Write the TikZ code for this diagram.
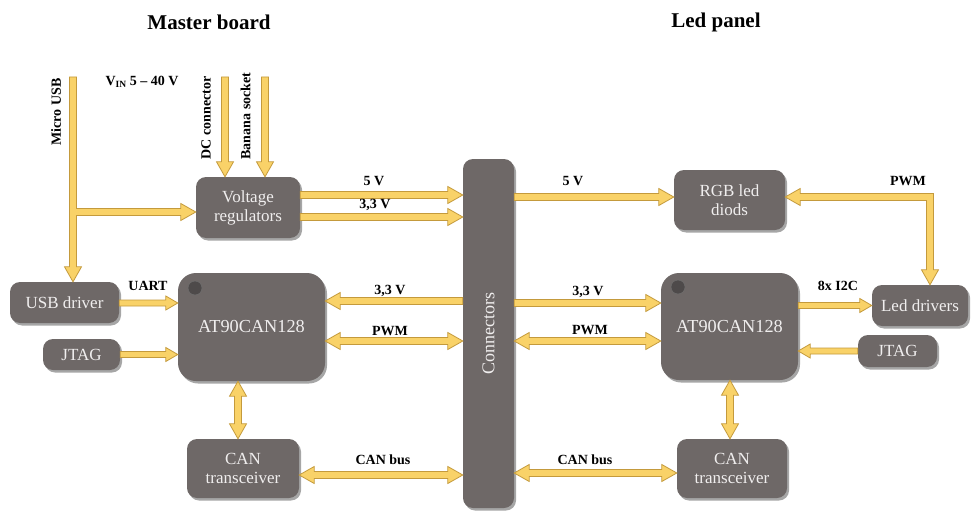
\documentclass[tikz,border=0pt]{standalone}
\usepackage{fontspec}
\setmainfont{Liberation Serif}
\usetikzlibrary{calc,shadows}
\definecolor{boxc}{RGB}{110,104,103}
\definecolor{boxt}{RGB}{240,238,238}
\definecolor{yfill}{RGB}{249,210,104}
\definecolor{yline}{RGB}{196,154,60}
\definecolor{dotc}{RGB}{78,74,74}
\tikzset{
 blk/.style={draw=none, fill=boxc, text=boxt, rounded corners=10pt, align=center, inner sep=0pt,
   font=\rmfamily\fontsize{17}{19}\selectfont,
   drop shadow={shadow xshift=2pt, shadow yshift=-2.5pt, opacity=0.35, fill=black}},
 bigblk/.style={blk, rounded corners=18pt, font=\rmfamily\fontsize{18.3}{20}\selectfont},
 lbl/.style={font=\bfseries\fontsize{14}{15}\selectfont, inner sep=0pt},
 ttl/.style={font=\bfseries\fontsize{21}{23}\selectfont, inner sep=0pt},
 yarr/.style={fill=yfill, draw=yline, line width=0.8pt, line join=miter},
 chipdot/.style={circle, fill=dotc, draw=black!55, line width=0.4pt, minimum size=14pt, inner sep=0pt},
}
\newcommand\yas{3.5pt}
\newcommand\yaw{8.5pt}
\newcommand\yah{15pt}
% single arrow, tip at #2
\newcommand\arF[2]{\path[yarr]
 ($(#1)!\yas!90:(#2)$) -- ($(#2)!\yah!(#1)!\yas!90:(#2)$) -- ($(#2)!\yah!(#1)!\yaw!90:(#2)$) -- (#2)
 -- ($(#2)!\yah!(#1)!\yaw!-90:(#2)$) -- ($(#2)!\yah!(#1)!\yas!-90:(#2)$) -- ($(#1)!\yas!-90:(#2)$) -- cycle;}
% double arrow
\newcommand\arD[2]{\path[yarr]
 ($(#1)!\yah!(#2)!\yas!90:(#2)$) -- ($(#2)!\yah!(#1)!\yas!90:(#2)$) -- ($(#2)!\yah!(#1)!\yaw!90:(#2)$) -- (#2)
 -- ($(#2)!\yah!(#1)!\yaw!-90:(#2)$) -- ($(#2)!\yah!(#1)!\yas!-90:(#2)$) -- ($(#1)!\yah!(#2)!\yas!-90:(#2)$)
 -- ($(#1)!\yah!(#2)!\yaw!-90:(#2)$) -- (#1) -- ($(#1)!\yah!(#2)!\yaw!90:(#2)$) -- cycle;}
\begin{document}
\begin{tikzpicture}[x=1pt,y=1pt]
\useasboundingbox (0,0) rectangle (975,-511);
\fill[white] (0,0) rectangle (975,-511);

% titles
\node[ttl] (tm) at (209,-22) {Master board};
\node[ttl] (tl) at (716,-22) {Led panel};

% blocks
\node[blk, minimum width=104pt, minimum height=61pt] (vreg) at (248,-207.5) {Voltage\\regulators};
\node[blk, minimum width=109pt, minimum height=41pt] (usb) at (64.5,-302.5) {USB driver};
\node[blk, minimum width=77pt, minimum height=31pt] (jtagL) at (81.5,-354.5) {JTAG};
\node[bigblk, minimum width=147pt, minimum height=108pt] (atL) at (251.5,-327) {AT90CAN128};
\node[blk, minimum width=112pt, minimum height=59pt] (canL) at (243,-468.5) {CAN\\transceiver};
\node[blk, minimum width=51pt, minimum height=349pt] (conn) at (488.5,-333.5) {};
\node[rotate=90, text=boxt, font=\rmfamily\fontsize{18}{20}\selectfont, inner sep=0pt] (connt) at (conn.center) {Connectors};
\node[blk, minimum width=111pt, minimum height=60pt] (rgb) at (729.5,-200) {RGB led\\diods};
\node[bigblk, minimum width=137pt, minimum height=107pt] (atR) at (729.5,-326.5) {AT90CAN128};
\node[blk, minimum width=96pt, minimum height=41pt] (ledd) at (920,-305.5) {Led drivers};
\node[blk, minimum width=79pt, minimum height=32pt] (jtagR) at (897.5,-351) {JTAG};
\node[blk, minimum width=110pt, minimum height=59pt] (canR) at (732,-468.5) {CAN\\transceiver};

\node[chipdot] (dotL) at (195,-288) {};
\node[chipdot] (dotR) at (678,-287) {};

% coordinates
\coordinate (dcT) at (225,-77);  \coordinate (dcB) at (dcT |- vreg.north);
\coordinate (baT) at (265,-77);  \coordinate (baB) at (baT |- vreg.north);
\coordinate (v5a) at (vreg.east |- 0,-195); \coordinate (v5b) at (conn.west |- 0,-195);
\coordinate (v3a) at (vreg.east |- 0,-217); \coordinate (v3b) at (conn.west |- 0,-217);
\coordinate (r5a) at (conn.east |- 0,-197); \coordinate (r5b) at (rgb.west |- 0,-197);
\coordinate (ua) at (usb.east |- 0,-303); \coordinate (ub) at (atL.west |- 0,-303);
\coordinate (jla) at (jtagL.east); \coordinate (jlb) at (atL.west |- jtagL.east);
\coordinate (l3a) at (conn.west |- 0,-301); \coordinate (l3b) at (atL.east |- 0,-301);
\coordinate (lpa) at (atL.east |- 0,-341); \coordinate (lpb) at (conn.west |- 0,-341);
\coordinate (r3a) at (conn.east |- 0,-303); \coordinate (r3b) at (atR.west |- 0,-303);
\coordinate (rpa) at (conn.east |- 0,-341); \coordinate (rpb) at (atR.west |- 0,-341);
\coordinate (ia) at (atR.east |- ledd.west); \coordinate (ib) at (ledd.west);
\coordinate (jra) at (jtagR.west); \coordinate (jrb) at (atR.east |- jtagR.west);
\coordinate (vla) at (atL.south -| 238,0); \coordinate (vlb) at (canL.north -| 238,0);
\coordinate (vra) at (atR.south -| 730,0); \coordinate (vrb) at (canR.north -| 730,0);
\coordinate (cla) at (canL.east |- 0,-475); \coordinate (clb) at (conn.west |- 0,-475);
\coordinate (cra) at (conn.east |- 0,-473); \coordinate (crb) at (canR.west |- 0,-473);
\coordinate (mu) at (73,-77); \coordinate (muB) at (mu |- usb.north);
\coordinate (mbr) at (vreg.west |- 0,-212);
\coordinate (pA) at (rgb.east |- 0,-197); \coordinate (pB) at (ledd.north -| 930,0);

% arrows
\arF{dcT}{dcB}
\arF{baT}{baB}
\arF{v5a}{v5b}
\arF{v3a}{v3b}
\arF{r5a}{r5b}
\arF{l3a}{l3b}
\arD{lpa}{lpb}
\arF{r3a}{r3b}
\arD{rpa}{rpb}
\arD{vla}{vlb}
\arD{vra}{vrb}
\arD{cla}{clb}
\arD{cra}{crb}
\begin{scope}
\renewcommand\yas{3pt}\renewcommand\yaw{7pt}\renewcommand\yah{12pt}
\arF{ua}{ub}
\arF{jla}{jlb}
\arF{ia}{ib}
\arF{jra}{jrb}
\end{scope}

% Micro USB T
\path[yarr] ($(mu)+(-3.5,0)$) -- ($(muB)+(-3.5,15)$) -- ($(muB)+(-8.5,15)$) -- (muB)
 -- ($(muB)+(8.5,15)$) -- ($(muB)+(3.5,15)$) -- ($(mu |- mbr)+(3.5,-3.5)$)
 -- ($(mbr)+(-15,-3.5)$) -- ($(mbr)+(-15,-8.5)$) -- (mbr) -- ($(mbr)+(-15,8.5)$)
 -- ($(mbr)+(-15,3.5)$) -- ($(mu |- mbr)+(3.5,3.5)$) -- ($(mu)+(3.5,0)$) -- cycle;

% PWM elbow
\path[yarr] (pA) -- ($(pA)+(15,8.5)$) -- ($(pA)+(15,3.5)$) -- ($(pA -| pB)+(3.5,3.5)$)
 -- ($(pB)+(3.5,15)$) -- ($(pB)+(8.5,15)$) -- (pB) -- ($(pB)+(-8.5,15)$) -- ($(pB)+(-3.5,15)$)
 -- ($(pA -| pB)+(-3.5,-3.5)$) -- ($(pA)+(15,-3.5)$) -- ($(pA)+(15,-8.5)$) -- cycle;

% labels
\node[lbl, rotate=90] (lmu) at (56,-112) {Micro USB};
\node[lbl] (lvin) at (142,-82) {V\raisebox{-0.4ex}{\fontsize{9.5}{10}\selectfont IN} 5 -- 40 V};
\node[lbl, rotate=90] (ldc) at (206,-118) {DC connector};
\node[lbl, rotate=90] (lba) at (245.5,-116) {Banana socket};
\node[lbl] (t5a) at (374,-181) {5 V};
\node[lbl] (t33a) at (375,-205) {3,3 V};
\node[lbl] (t5b) at (573,-181) {5 V};
\node[lbl] (tpwm) at (908,-181) {PWM};
\node[lbl] (tuart) at (148,-286) {UART};
\node[lbl] (tl33) at (390,-291) {3,3 V};
\node[lbl] (tlpwm) at (390,-331) {PWM};
\node[lbl] (tr33) at (588,-292) {3,3 V};
\node[lbl] (trpwm) at (590,-330) {PWM};
\node[lbl] (ti2c) at (838,-286) {8x I2C};
\node[lbl] (tcl) at (383,-460) {CAN bus};
\node[lbl] (tcr) at (585,-460) {CAN bus};
\end{tikzpicture}
\end{document}
